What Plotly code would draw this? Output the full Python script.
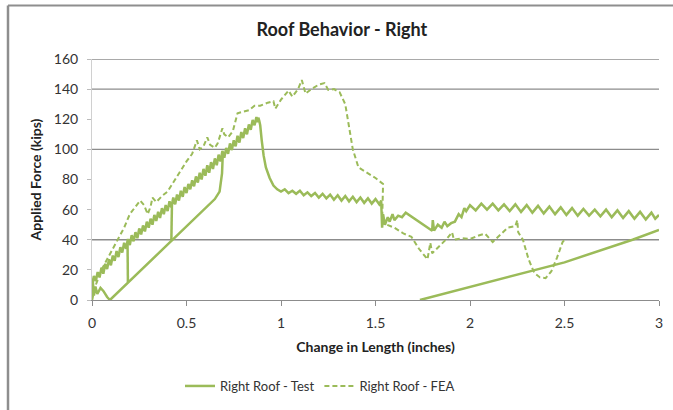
import plotly.graph_objects as go

# ---- data -------------------------------------------------------------
GREEN = "#9BBB59"

# Right Roof - Test: reload line, unload/reload branches, the loading
# envelope, post-peak plateau and the final reset line (gaps split the runs)
test_x = [
    # initial seating + reload line
    0.0, 0.004, 0.01, 0.018, 0.028, 0.045, 0.06, 0.08, 0.095, 0.19, 0.42, 0.60, 0.65, 0.675, 0.688, 0.692,
    None,
    0.19, 0.188,
    None,
    0.42, 0.423,
    None,
    # loading envelope
    0.00, 0.01, 0.02, 0.03, 0.04, 0.05, 0.06, 0.07, 0.08, 0.09,
    0.10, 0.11, 0.12, 0.13, 0.14, 0.15, 0.16, 0.17, 0.18, 0.19,
    0.20, 0.21, 0.22, 0.23, 0.24, 0.25, 0.26, 0.27, 0.28, 0.29,
    0.30, 0.31, 0.32, 0.33, 0.34, 0.35, 0.36, 0.37, 0.38, 0.39,
    0.40, 0.41, 0.42, 0.43, 0.44, 0.45, 0.46, 0.47, 0.48, 0.49,
    0.50, 0.51, 0.52, 0.53, 0.54, 0.55, 0.56, 0.57, 0.58, 0.59,
    0.60, 0.61, 0.62, 0.63, 0.64, 0.65, 0.66, 0.67, 0.68, 0.69,
    0.70, 0.71, 0.72, 0.73, 0.74, 0.75, 0.76, 0.77, 0.78, 0.79,
    0.80, 0.81, 0.82, 0.83, 0.84, 0.85, 0.86, 0.87,
    # peak and drop
    0.875, 0.88, 0.885, 0.89, 0.898, 0.908, 0.92, 0.94, 0.96, 0.98,
    # plateau
    1.00, 1.02, 1.04, 1.06, 1.08, 1.10, 1.12, 1.14, 1.16, 1.18, 1.20, 1.22, 1.24, 1.26, 1.28,
    1.30, 1.32, 1.34, 1.36, 1.38, 1.40, 1.42, 1.44, 1.46, 1.48, 1.50, 1.52, 1.53, 1.535,
    1.54, 1.55, 1.565, 1.575, 1.59, 1.60, 1.62, 1.64, 1.66, 1.80, 1.803, 1.81, 1.83, 1.85,
    1.865, 1.88, 1.90, 1.92, 1.94, 1.955, 1.97, 1.98,
    2.00, 2.03, 2.06, 2.09, 2.12, 2.15, 2.18, 2.21, 2.24, 2.27, 2.30, 2.33, 2.36, 2.39, 2.42,
    2.45, 2.48, 2.51, 2.54, 2.57, 2.60, 2.63, 2.66, 2.69, 2.72, 2.75, 2.78, 2.81, 2.84, 2.87,
    2.90, 2.93, 2.96, 2.98, 3.00,
    None,
    # reset line
    1.735, 2.0, 2.5, 2.86, 3.0,
]
test_y = [
    0, 13, 3, 9, 4, 8, 6, 2, 0, 11.5, 39.5, 61, 67, 72, 84, 97,
    None,
    12, 38,
    None,
    40, 64,
    None,
    9.5, 16, 12.5, 18.5, 15, 21.5, 17.5, 24, 20.5, 27,
    23, 29.5, 26, 32.5, 28.5, 35, 31.5, 38, 34, 40.5,
    36.5, 43, 39, 45, 41, 47.5, 43.5, 49.5, 45.5, 52,
    48, 54, 50, 56.5, 52.5, 58.5, 54.5, 61, 57, 63,
    59, 65.5, 61.5, 68, 63.5, 70, 66, 72.5, 68.5, 75,
    71, 77, 73.5, 79.5, 75.5, 82, 78, 84.5, 80, 87,
    82.5, 89.5, 84.5, 91.5, 87, 94, 89.5, 96.5, 92, 99,
    94.5, 101, 97, 104, 99.5, 106, 102, 109, 104.5, 111.5,
    107.5, 114, 110, 116.5, 113, 119.5, 116, 121.5,
    118, 121, 119, 116, 106, 96, 88, 81, 76, 73.5,
    72, 73.5, 71, 72.5, 70.5, 72.5, 69.5, 71.5, 69, 71, 68, 70.5, 67.5, 70, 66.5,
    69.5, 66, 69, 65.5, 68.5, 65, 68, 64.5, 67.5, 64, 67, 63.5, 66, 48,
    57, 50, 55, 52, 57, 53, 56, 55, 58, 46, 53, 46, 50, 48,
    52, 49, 51, 52, 57, 55, 61, 59,
    63, 59.5, 64, 60, 64, 59.5, 63.5, 59, 63.5, 58.5, 63, 58, 62.5, 57.5, 62,
    57, 61.5, 56.5, 61, 56, 60.5, 56, 60, 55.5, 60, 55, 59.5, 54.5, 59, 54,
    58.5, 53.5, 58, 54, 56.5,
    None,
    0, 8.5, 25, 40, 46.5,
]

# Right Roof - FEA
fea_x = [
    0.0, 0.02, 0.05, 0.08, 0.11, 0.14, 0.17, 0.20, 0.23, 0.255, 0.275, 0.295, 0.31, 0.32, 0.34,
    0.37, 0.40, 0.43, 0.47, 0.50, 0.53, 0.555, 0.57, 0.59, 0.61, 0.625, 0.65, 0.665, 0.69, 0.70,
    0.72, 0.745, 0.77, 0.80, 0.83, 0.86, 0.89, 0.93, 0.96, 0.97, 1.00, 1.04, 1.06, 1.09, 1.11,
    1.13, 1.16, 1.20, 1.23, 1.25, 1.28, 1.31, 1.34, 1.36, 1.38, 1.41, 1.46, 1.50, 1.54, 1.535,
    1.56, 1.60, 1.65, 1.69, 1.73, 1.775, 1.79, 1.80, 1.84, 1.88, 1.905, 1.915, 1.96, 2.00, 2.05,
    2.08, 2.12, 2.16, 2.20, 2.24, 2.25, 2.255, 2.28, 2.31, 2.34, 2.37, 2.40, 2.43, 2.46, 2.49, 2.50,
]
fea_y = [
    0, 10, 20, 27, 33, 40, 48, 57, 62, 66, 63, 57, 62, 68, 65,
    69, 72, 78, 86, 92, 97, 106, 100, 102, 108, 103, 101, 104, 114, 110,
    108, 112, 124, 125, 126, 129, 129, 131, 132, 127, 133, 139, 135, 140, 146,
    137, 140, 143, 144, 139.5, 140, 138, 130, 115, 100, 88, 84, 81, 77, 52,
    50, 48, 44, 42, 34, 27, 38, 31, 36, 41, 45, 40, 41, 40.5, 43,
    44, 38.5, 43, 48, 49, 53, 45, 40, 27, 18, 15, 14.5, 19, 28, 38.5, 40,
]

x_ticks = [0, 0.5, 1, 1.5, 2, 2.5, 3]
x_tick_text = ["0", "0.5", "1", "1.5", "2", "2.5", "3"]
y_ticks = [0, 20, 40, 60, 80, 100, 120, 140, 160]
grid_levels = [40, 100, 140, 160]

# ---- figure -----------------------------------------------------------
W, H = 673, 410
L, R, T, B = 92, 14, 59, 110
pw, ph = W - L - R, H - T - B


def px_x(p):
    return (p - L) / pw


def px_y(p):
    return (H - B - p) / ph


fig = go.Figure()
fig.add_trace(go.Scatter(
    x=test_x, y=test_y, mode="lines", name="Right Roof - Test",
    line=dict(color=GREEN, width=2.5), connectgaps=False,
))
fig.add_trace(go.Scatter(
    x=fea_x, y=fea_y, mode="lines", name="Right Roof - FEA",
    line=dict(color=GREEN, width=2, dash="5px,3px"),
))

shapes = []
for g in grid_levels:
    shapes.append(dict(type="line", xref="x", yref="y", x0=0, x1=3, y0=g, y1=g,
                       line=dict(color="#8C8C8C", width=1.3), layer="below"))
# chart frame (top and left edges)
shapes.append(dict(type="line", xref="paper", yref="paper",
                   x0=px_x(8), x1=px_x(W + 5), y0=px_y(5.5), y1=px_y(5.5),
                   line=dict(color="#8E8E8E", width=2)))
shapes.append(dict(type="line", xref="paper", yref="paper",
                   x0=px_x(8), x1=px_x(8), y0=px_y(5.5), y1=px_y(H + 5),
                   line=dict(color="#8E8E8E", width=2.5)))

font_family = "Lato, 'Open Sans', sans-serif"
fig.update_layout(
    width=W, height=H,
    margin=dict(l=L, r=R, t=T, b=B, autoexpand=False),
    paper_bgcolor="white", plot_bgcolor="white",
    font=dict(family=font_family, size=14, color="#333333"),
    title=dict(text="<b>Roof Behavior - Right</b>", x=0.508, xref="container",
               y=1 - 30 / H, yref="container", xanchor="center", yanchor="middle",
               font=dict(size=18, color="#222222")),
    xaxis=dict(range=[0, 3], tickvals=x_ticks, ticktext=x_tick_text,
               showgrid=False, zeroline=False,
               showline=True, linecolor="#8C8C8C", linewidth=1.3,
               ticks="outside", ticklen=5, tickcolor="#8C8C8C",
               ticklabelstandoff=5,
               title=dict(text="<b>Change in Length (inches)</b>", standoff=12,
                          font=dict(size=14, color="#222222"))),
    yaxis=dict(range=[0, 160], tickvals=y_ticks,
               showgrid=False, zeroline=False,
               showline=True, linecolor="#D0D0D0", linewidth=1,
               ticks="outside", ticklen=4, tickcolor="#BBBBBB",
               ticklabelstandoff=6,
               title=dict(text="<b>Applied Force (kips)</b>", standoff=8,
                          font=dict(size=14, color="#222222"))),
    legend=dict(orientation="h", x=px_x(320), xanchor="center",
                y=px_y(386), yanchor="middle", itemwidth=30,
                font=dict(size=13, color="#333333"), bgcolor="rgba(0,0,0,0)"),
    shapes=shapes,
)

fig.write_html("out.html")
